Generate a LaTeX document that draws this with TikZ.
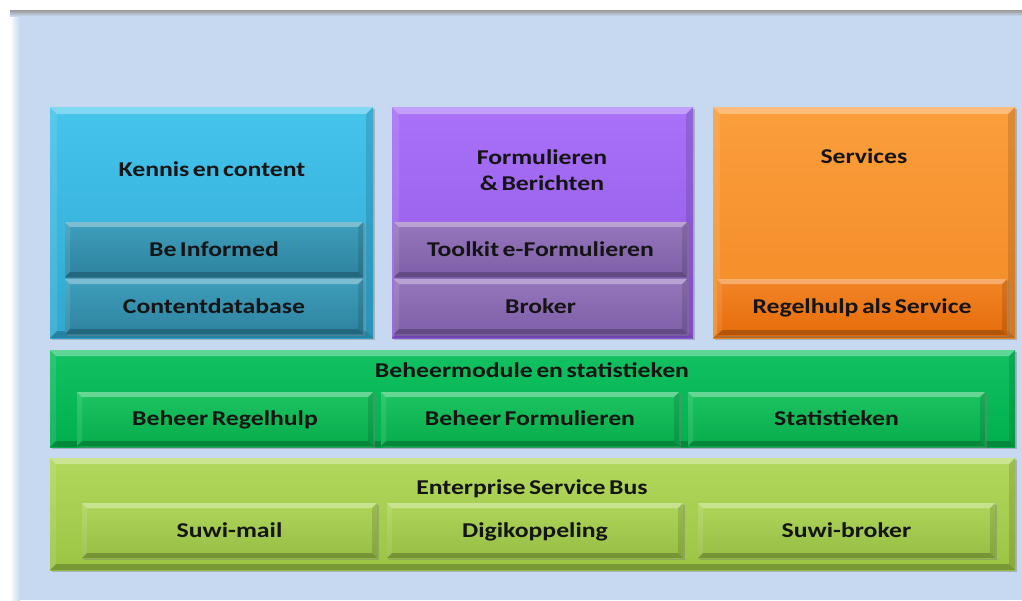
\documentclass[tikz,border=0pt]{standalone}
\usepackage{fontspec}
\usetikzlibrary{fit,calc,shadows}
\newfontfamily\lblfont{Carlito}[FakeStretch=1.22, WordSpace=0.6]
\definecolor{panel}{HTML}{C6D9F1}
\definecolor{txt}{HTML}{141414}
\definecolor{kenT}{HTML}{45C4EC}\definecolor{kenB}{HTML}{2FA8D2}
\definecolor{kenST}{HTML}{3E9EBC}\definecolor{kenSB}{HTML}{2D839F}
\definecolor{forT}{HTML}{A871F8}\definecolor{forB}{HTML}{9159E2}
\definecolor{forST}{HTML}{9677BC}\definecolor{forSB}{HTML}{7E5FA8}
\definecolor{serT}{HTML}{FB9E3C}\definecolor{serB}{HTML}{F28A25}
\definecolor{serST}{HTML}{F38526}\definecolor{serSB}{HTML}{E56C0B}
\definecolor{behT}{HTML}{12C262}\definecolor{behB}{HTML}{00AF4E}
\definecolor{behST}{HTML}{1CC461}\definecolor{behSB}{HTML}{07AC4B}
\definecolor{esbT}{HTML}{B2D85C}\definecolor{esbB}{HTML}{9BC444}
\definecolor{esbST}{HTML}{AFD65B}\definecolor{esbSB}{HTML}{97BD44}
\tikzset{
  lbl/.style={font=\lblfont\bfseries\fontsize{12}{14.8}\selectfont, text=txt, inner sep=0pt,
    align=center, text height=10pt, text depth=2.3pt},
  box/.style={inner sep=0pt, outer sep=0pt, draw=none,
    drop shadow={shadow xshift=1.3pt, shadow yshift=-1.3pt, opacity=0.45}},
}
% #1 name, #2 corner, #3 corner, #4 top colour, #5 bottom colour, #6 bevel (px), #7 text
\newcommand\bevbox[7]{%
  \node[box, fit={#2 #3}, top color=#4, bottom color=#5] (#1) {};
  \fill[white,opacity=.33] (#1.north west) -- (#1.north east) -- ($(#1.north east)+(-#6,#6)$) -- ($(#1.north west)+(#6,#6)$) -- cycle;
  \fill[white,opacity=.10] (#1.north west) -- ($(#1.north west)+(#6,#6)$) -- ($(#1.south west)+(#6,-#6)$) -- (#1.south west) -- cycle;
  \fill[black,opacity=.12] (#1.north east) -- (#1.south east) -- ($(#1.south east)+(-#6,-#6)$) -- ($(#1.north east)+(-#6,#6)$) -- cycle;
  \fill[black,opacity=.22] (#1.south west) -- (#1.south east) -- ($(#1.south east)+(-#6,-#6)$) -- ($(#1.south west)+(#6,-#6)$) -- cycle;
  \node[lbl] (#1-t) at (#1.center) {#7};
}
\begin{document}
\begin{tikzpicture}[x=0.02cm,y=-0.02cm]
\useasboundingbox (0,0) rectangle (1022,600);
% background panel
\fill[white] (0,0) rectangle (1022,600);
\node[fit={(10,10) (1022,600)}, inner sep=0pt, outer sep=0pt, fill=panel] (panel) {};
\shade[left color=white, right color=panel] (10,12) rectangle (20,600);
\shade[top color=gray!80, bottom color=panel] (10,10) rectangle (1022,16);
% upper row
\bevbox{ken}{(50,107)}{(373,338)}{kenT}{kenB}{7}{}
\bevbox{for}{(392,107)}{(693,338)}{forT}{forB}{7}{}
\bevbox{ser}{(713,107)}{(1015,338)}{serT}{serB}{7}{}
\bevbox{kenA}{(65,222)}{(363,277)}{kenST}{kenSB}{5}{Be Informed}
\bevbox{kenB}{(65,279)}{(363,334)}{kenST}{kenSB}{5}{Contentdatabase}
\bevbox{forA}{(394,222)}{(687,277)}{forST}{forSB}{5}{Toolkit e-Formulieren}
\bevbox{forB}{(394,279)}{(687,334)}{forST}{forSB}{5}{Broker}
\bevbox{serA}{(717,279)}{(1007,335)}{serST}{serSB}{5}{Regelhulp als Service}
\node[lbl] (kenTitle) at (212,170) {Kennis en content};
\node[lbl] (forTitle) at (542,184) {Formulieren\\\& Berichten};
\node[lbl] (serTitle) at (864,157) {Services};
% beheer row
\bevbox{beh}{(50,350)}{(1015,447)}{behT}{behB}{6}{}
\bevbox{behA}{(77,392)}{(373,446)}{behST}{behSB}{5}{Beheer Regelhulp}
\bevbox{behB}{(381,392)}{(679,446)}{behST}{behSB}{5}{Beheer Formulieren}
\bevbox{behC}{(688,392)}{(985,446)}{behST}{behSB}{5}{Statistieken}
\node[lbl] (behTitle) at (532,371) {Beheermodule en statistieken};
% ESB row
\bevbox{esb}{(50,458)}{(1015,570)}{esbT}{esbB}{6}{}
\bevbox{esbA}{(82,503)}{(377,558)}{esbST}{esbSB}{5}{Suwi-mail}
\bevbox{esbB}{(387,503)}{(683,558)}{esbST}{esbSB}{5}{Digikoppeling}
\bevbox{esbC}{(698,503)}{(995,558)}{esbST}{esbSB}{5}{Suwi-broker}
\node[lbl] (esbTitle) at (532,488) {Enterprise Service Bus};
\end{tikzpicture}
\end{document}
